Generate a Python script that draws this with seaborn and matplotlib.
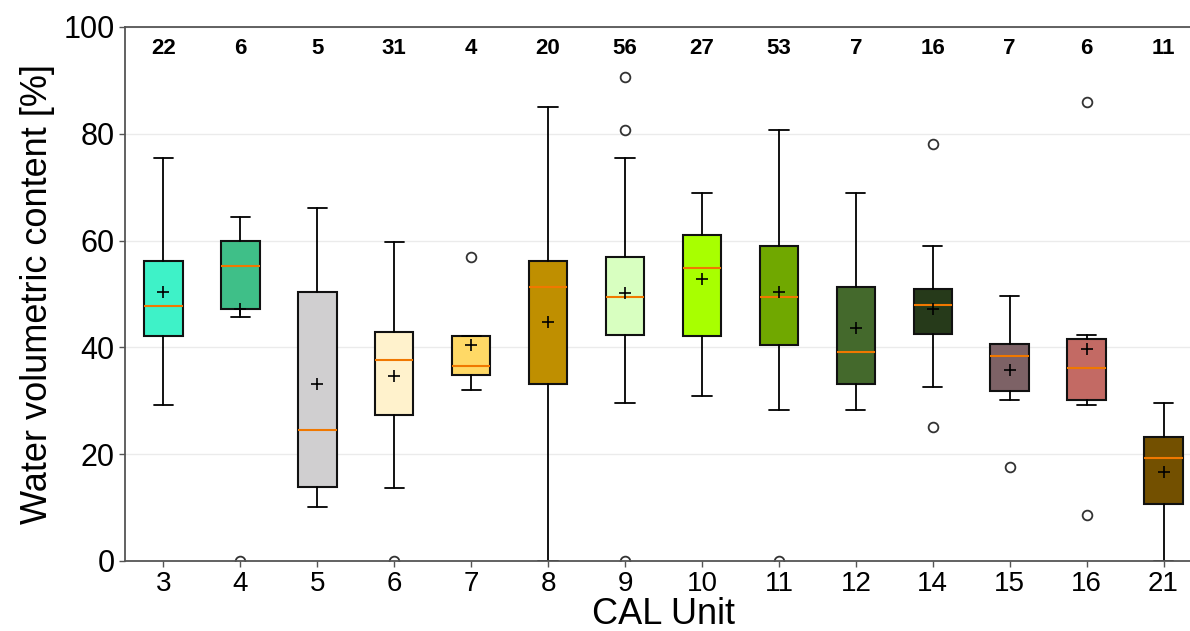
import matplotlib
matplotlib.use("Agg")
import matplotlib.pyplot as plt
import seaborn as sns

# CAL units and box statistics
units = ["3", "4", "5", "6", "7", "8", "9", "10", "11", "12", "14", "15", "16", "21"]
counts = [22, 6, 5, 31, 4, 20, 56, 27, 53, 7, 16, 7, 6, 11]
whislo = [29.3, 45.6, 10.2, 13.6, 32.0, 0.0, 29.6, 30.9, 28.3, 28.3, 32.5, 30.1, 29.3, 0.0]
q1 = [42.1, 47.2, 13.9, 27.4, 34.9, 33.1, 42.4, 42.1, 40.5, 33.1, 42.6, 31.9, 30.1, 10.6]
med = [47.8, 55.2, 24.6, 37.6, 36.6, 51.3, 49.4, 54.8, 49.4, 39.2, 48.0, 38.4, 36.1, 19.2]
q3 = [56.1, 59.9, 50.3, 42.9, 42.1, 56.1, 57.0, 61.0, 58.9, 51.4, 51.0, 40.7, 41.6, 23.2]
whishi = [75.4, 64.5, 66.1, 59.7, 42.1, 85.0, 75.4, 69.0, 80.7, 69.0, 58.9, 49.6, 42.4, 29.6]
means = [50.3, 47.2, 33.1, 34.6, 40.5, 44.7, 50.1, 52.8, 50.3, 43.7, 47.2, 35.7, 39.7, 16.7]
fliers = [[], [0.0], [], [0.0], [57.0], [], [90.6, 80.8, 0.0], [], [0.0], [],
          [78.0, 25.1], [17.6], [86.0, 8.6], []]
colors = ["#3EF2C8", "#3FBF88", "#D0CFD0", "#FFF2CC", "#FFD966", "#BF8F00", "#D8FFC0",
          "#A8FF00", "#70A800", "#44692C", "#263A1A", "#7D6266", "#C36A64", "#735000"]

sns.set_style("white")
plt.rcParams["font.family"] = ["Liberation Sans", "DejaVu Sans"]
plt.rcParams["text.color"] = "black"
plt.rcParams["axes.labelcolor"] = "black"
plt.rcParams["xtick.color"] = "black"
plt.rcParams["ytick.color"] = "black"

stats = []
for i in range(len(units)):
    stats.append({
        "label": units[i], "whislo": whislo[i], "q1": q1[i], "med": med[i],
        "q3": q3[i], "whishi": whishi[i], "mean": means[i], "fliers": fliers[i],
    })

fig = plt.figure(figsize=(11.9, 6.31), dpi=100)
ax = fig.add_axes([125 / 1190, 70 / 631, 1077 / 1190, 534 / 631])

pos = list(range(1, len(units) + 1))
bp = ax.bxp(
    stats, positions=pos, widths=0.5, patch_artist=True, showmeans=True,
    boxprops=dict(edgecolor="#111111", linewidth=1.5),
    medianprops=dict(color="#F07800", linewidth=1.5),
    whiskerprops=dict(color="black", linewidth=1.3),
    capprops=dict(color="black", linewidth=1.3),
    meanprops=dict(marker="+", markeredgecolor="black", markersize=8, markeredgewidth=1.2),
    flierprops=dict(marker="o", markerfacecolor="none", markeredgecolor="#333333",
                    markersize=7, markeredgewidth=1.3),
)
for patch, c in zip(bp["boxes"], colors):
    patch.set_facecolor(c)

for p, n in zip(pos, counts):
    ax.text(p, 96, str(n), ha="center", va="center", fontsize=16, fontweight="bold")

ax.set_xlim(0.5, 14.5)
ax.set_ylim(0, 100)
ax.set_yticks([0, 20, 40, 60, 80, 100])
ax.yaxis.grid(True, color="#EBEBEB", linewidth=1)
ax.set_axisbelow(True)
for s in ax.spines.values():
    s.set_color("#555555")
    s.set_linewidth(1.3)
ax.tick_params(axis="both", direction="out", length=4, width=1, color="#555555", bottom=True, left=True)
ax.tick_params(axis="y", labelsize=22)
ax.tick_params(axis="x", labelsize=20)
ax.set_xlabel("CAL Unit", fontsize=26, labelpad=0)
ax.set_ylabel("Water volumetric content [%]", fontsize=26, labelpad=6)

fig.savefig("out.png", dpi=100)
